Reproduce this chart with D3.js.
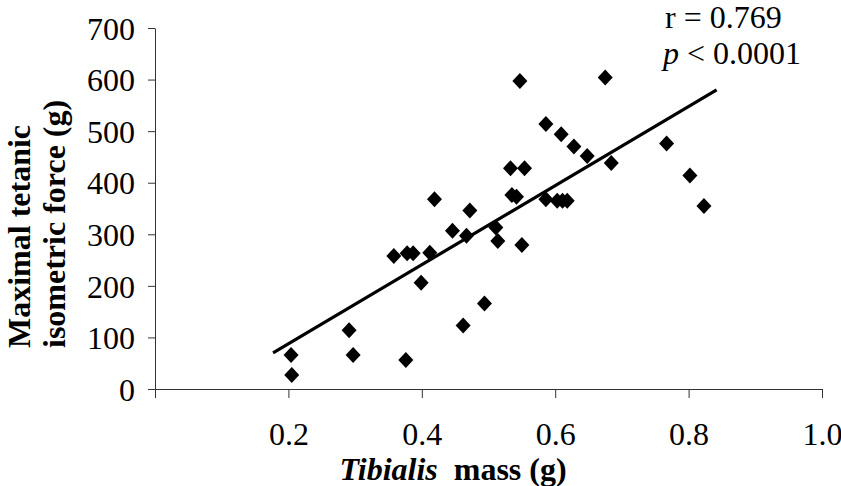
<!DOCTYPE html>
<html>
<head>
<meta charset="utf-8">
<script src="https://cdn.jsdelivr.net/npm/d3@7"></script>
<style>
  body { margin: 0; background: #fff; }
  text { font-family: "Liberation Serif", "Times New Roman", serif; fill: #000; }
</style>
</head>
<body>
<svg id="chart"></svg>
<script>
// tibialis mass (g) and max tetanic force (g)
var massG = [0.204, 0.205, 0.291, 0.297, 0.358, 0.376, 0.378, 0.387, 0.399, 0.412,
             0.419, 0.446, 0.462, 0.467, 0.472, 0.494, 0.511, 0.514, 0.533, 0.535,
             0.542, 0.547, 0.550, 0.554, 0.586, 0.586, 0.603, 0.609, 0.611, 0.618,
             0.628, 0.648, 0.675, 0.684, 0.767, 0.802, 0.823];
var forceG = [66, 27, 114, 66, 258, 56, 263, 263, 206, 264,
              368, 307, 123, 297, 346, 166, 313, 287, 428, 376,
              373, 597, 279, 428, 514, 368, 365, 494, 365, 365,
              470, 452, 604, 438, 476, 414, 355];

// regression line ends
var trendMass = [0.177, 0.842];
var trendForce = [70, 580];

var xTicks = [0, 0.2, 0.4, 0.6, 0.8, 1.0];
var yTicks = [0, 100, 200, 300, 400, 500, 600, 700];

var width = 841, height = 486;
var margin = {top: 28, right: 19, bottom: 97, left: 155};
var fontSize = "32px";

var svg = d3.select("#chart")
    .attr("width", width)
    .attr("height", height);

var x = d3.scaleLinear().domain([0, 1]).range([margin.left, width - margin.right]);
var y = d3.scaleLinear().domain([0, 700]).range([height - margin.bottom, margin.top]);

// x axis
var xAxis = svg.append("g")
    .attr("transform", `translate(0, ${y(0)})`)
    .call(d3.axisBottom(x)
      .tickValues(xTicks)
      .tickSize(9)
      .tickSizeOuter(0)
      .tickFormat(d => d === 0 ? "" : d3.format(".1f")(d)));
xAxis.selectAll("text")
    .attr("y", 56)
    .attr("dy", 0)
    .style("font-size", fontSize);

// y axis
var yAxis = svg.append("g")
    .attr("transform", `translate(${x(0)}, 0)`)
    .call(d3.axisLeft(y)
      .tickValues(yTicks)
      .tickSize(7)
      .tickSizeOuter(0));
yAxis.selectAll("text")
    .attr("x", -20)
    .attr("dy", "0.35em")
    .style("font-size", fontSize);

svg.selectAll(".domain, .tick line").attr("stroke", "#333");
svg.selectAll(".tick text").attr("fill", "#000").style("font-family", "'Liberation Serif', serif");

// trend line
var line = d3.line().x(d => x(d[0])).y(d => y(d[1]));
svg.append("path")
    .datum(d3.zip(trendMass, trendForce))
    .attr("d", line)
    .attr("fill", "none")
    .attr("stroke", "#000")
    .attr("stroke-width", 3.2);

// points
svg.append("g")
  .selectAll("path")
  .data(d3.zip(massG, forceG))
  .join("path")
    .attr("transform", d => `translate(${x(d[0])}, ${y(d[1])})`)
    .attr("d", "M0,-8L7.5,0L0,8L-7.5,0Z")
    .attr("fill", "#000");

// stats
svg.append("text")
    .attr("x", 665)
    .attr("y", 28)
    .style("font-size", fontSize)
    .text("r = 0.769");
var pText = svg.append("text")
    .attr("x", 663)
    .attr("y", 64)
    .style("font-size", fontSize);
pText.append("tspan").style("font-style", "italic").text("p");
pText.append("tspan").text(" < 0.0001");

// axis titles
var xTitle = svg.append("text")
    .attr("x", 453)
    .attr("y", 480)
    .attr("text-anchor", "middle")
    .style("font-size", fontSize)
    .style("font-weight", "bold");
xTitle.append("tspan").style("font-style", "italic").text("Tibialis");
xTitle.append("tspan").text("\u00a0 mass (g)");

var yTitle = svg.append("text")
    .attr("transform", "translate(0, 348) rotate(-90)")
    .style("font-size", fontSize)
    .style("font-weight", "bold");
yTitle.append("tspan").attr("x", 0).attr("y", 30).text("Maximal tetanic");
yTitle.append("tspan").attr("x", 0).attr("y", 65).text("isometric force (g)");
</script>
</body>
</html>
